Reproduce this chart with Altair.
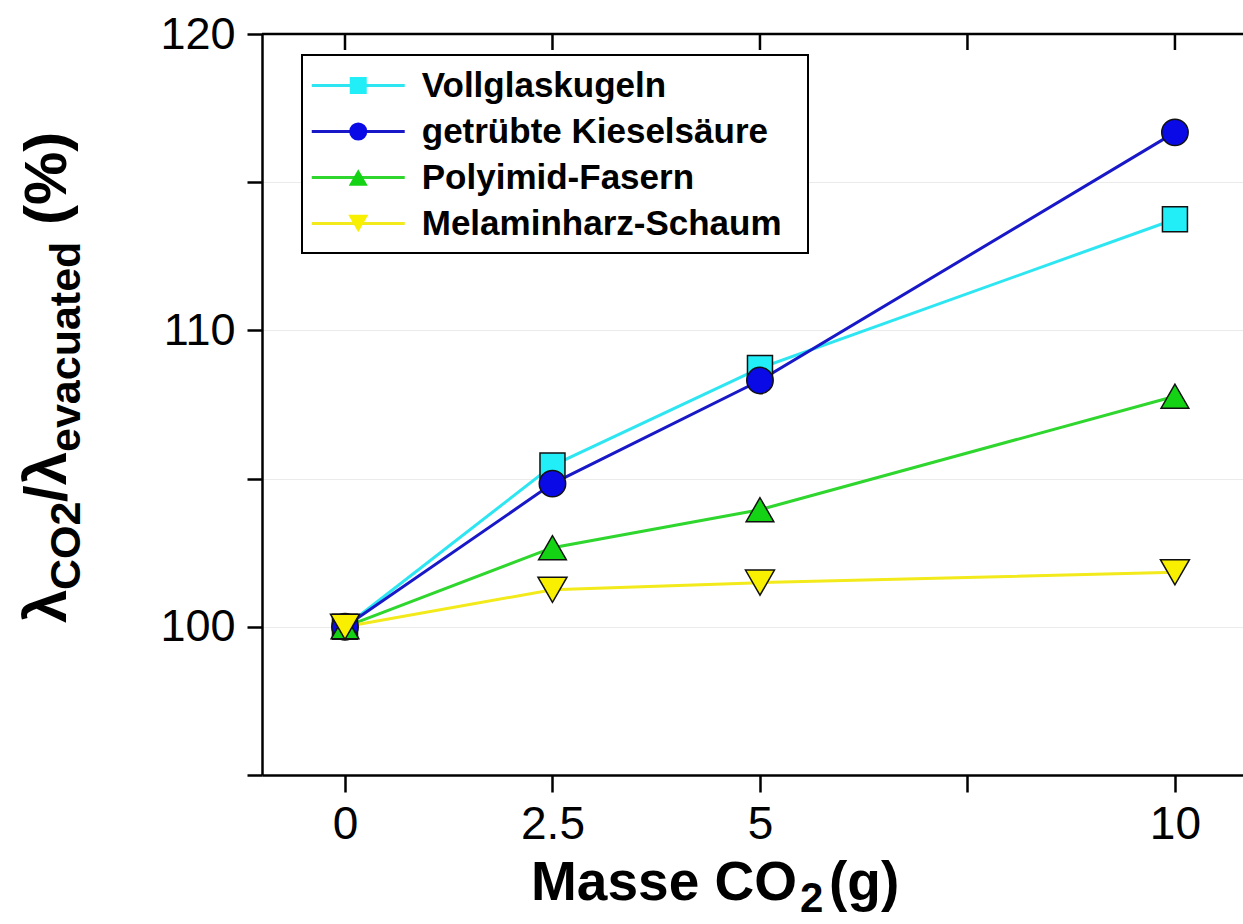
import altair as alt
import pandas as pd

# ---- data ----
masse = [0, 2.5, 5, 10]
serien = ["Vollglaskugeln", "getrübte Kieselsäure", "Polyimid-Fasern", "Melaminharz-Schaum"]
vollglaskugeln = [100, 105.44, 108.73, 113.75]
kieselsaeure = [100, 104.83, 108.31, 116.68]
polyimid = [100, 102.67, 103.95, 107.78]
melaminharz = [100, 101.25, 101.49, 101.84]

x_ticks = [0, 2.5, 5, 7.5, 10]
x_labels = [0, 2.5, 5, 10]
y_ticks = [95, 100, 105, 110, 115, 120]
y_labels = [100, 110, 120]

# ---- styles ----
line_colors = ["#2ee6f2", "#1818c8", "#2ed62e", "#f2ea1a"]
fill_colors = ["#22eef8", "#0a0ae6", "#14d214", "#f8f000"]
shapes = ["square", "circle", "triangle-up", "triangle-down"]
plot_sizes = [625, 841, 1156, 1156]
legend_sizes = [289, 400, 506, 506]

W, H = 981, 741
FONT = "Liberation Sans, Arial, sans-serif"

rows = []
for name, vals in zip(serien, [vollglaskugeln, kieselsaeure, polyimid, melaminharz]):
    for m, v in zip(masse, vals):
        rows.append({"Serie": name, "Masse": m, "Wert": v})
df = pd.DataFrame(rows)

x_enc = alt.X(
    "Masse:Q",
    scale=alt.Scale(domain=[-1, 10.82], nice=False, zero=False),
    axis=alt.Axis(
        values=x_ticks,
        labelExpr=f"indexof({x_labels}, datum.value) >= 0 ? format(datum.value, '~g') : ''",
        title=None, grid=False, domainColor="black", domainWidth=2.5,
        tickColor="black", tickWidth=2.5, tickSize=17,
        labelFont=FONT, labelFontSize=46, labelColor="black", labelPadding=10,
    ),
)
y_enc = alt.Y(
    "Wert:Q",
    scale=alt.Scale(domain=[95, 120], nice=False, zero=False),
    axis=alt.Axis(
        values=y_ticks,
        labelExpr=f"indexof({y_labels}, datum.value) >= 0 ? format(datum.value, 'd') : ''",
        title=None, grid=True, gridColor="#ebebeb", gridWidth=1,
        domainColor="black", domainWidth=2.5,
        tickColor="black", tickWidth=2.5, tickSize=15,
        labelFont=FONT, labelFontSize=45, labelColor="black", labelPadding=12,
    ),
)

common_legend = dict(
    orient="none", legendX=40, legendY=21, title=None,
    labelFont=FONT, labelFontSize=35, labelFontWeight="bold", labelColor="black",
    labelLimit=800, padding=13, rowPadding=10, symbolOffset=25.75, labelOffset=46,
)

# line legend: coloured line samples only (no label text)
legend_lines = alt.Legend(
    symbolType="M-4.133,0H4.133", symbolSize=506, symbolStrokeWidth=3,
    labelExpr="''", **common_legend,
)
# marker legend: drawn on top, shows markers and the labels
legend_marks = alt.Legend(
    symbolStrokeColor="#111111", symbolStrokeWidth=1.5, **common_legend,
)

# legend frame (white box with black border) behind the legend entries
legend_box = alt.Chart(pd.DataFrame({"a": [0]})).mark_rect(
    fill="white", stroke="black", strokeWidth=2
).encode(x=alt.value(40), x2=alt.value(546), y=alt.value(21), y2=alt.value(219))

lines = alt.Chart(df).mark_line(strokeWidth=3).encode(
    x=x_enc, y=y_enc,
    color=alt.Color("Serie:N", scale=alt.Scale(domain=serien, range=line_colors), legend=legend_lines),
)

legend_pts = alt.Chart(df).mark_point(filled=True, opacity=1, stroke="#111111", strokeWidth=1.5).encode(
    x=x_enc, y=y_enc,
    fill=alt.Fill("Serie:N", scale=alt.Scale(domain=serien, range=fill_colors), legend=legend_marks),
    shape=alt.Shape("Serie:N", scale=alt.Scale(domain=serien, range=shapes), legend=legend_marks),
    size=alt.Size("Serie:N", scale=alt.Scale(domain=serien, range=legend_sizes), legend=legend_marks),
)

pts = alt.Chart(df).mark_point(filled=True, opacity=1, stroke="#111111", strokeWidth=1.5).encode(
    x=x_enc, y=y_enc,
    fill=alt.Fill("Serie:N", scale=alt.Scale(domain=serien, range=fill_colors), legend=None),
    shape=alt.Shape("Serie:N", scale=alt.Scale(domain=serien, range=shapes), legend=None),
    size=alt.Size("Serie:N", scale=alt.Scale(domain=serien, range=plot_sizes), legend=None),
)

top_line = alt.Chart(pd.DataFrame({"a": [0]})).mark_rule(color="black", strokeWidth=2.5).encode(
    x=alt.value(0), x2=alt.value(W), y=alt.value(0)
)
top_ticks = alt.Chart(pd.DataFrame({"Masse": x_ticks})).mark_rule(color="black", strokeWidth=2.5).encode(
    x=alt.X("Masse:Q"), y=alt.value(0), y2=alt.value(16)
)


def txt(s, px, py, size, angle=0, align="left"):
    return alt.Chart(pd.DataFrame({"t": [s]})).mark_text(
        font=FONT, fontSize=size, fontWeight="bold", color="black",
        align=align, baseline="alphabetic", angle=angle,
    ).encode(text="t:N", x=alt.value(px), y=alt.value(py))


# y-axis title pieces (rotated, reading upwards), with subscripts
y_title = [
    txt("λ", -196, 589, 60, 270),
    txt("CO2", -182, 556, 43, 270),
    txt("/λ", -196, 468, 60, 270),
    txt("evacuated", -182, 418, 43, 270),
    txt("(%)", -196, 191, 60, 270),
]
# x-axis title pieces with subscript 2
x_title = [
    txt("Masse CO", 535, 866, 55, 0, "right"),
    txt("2", 538, 878, 42, 0, "left"),
    txt("(g)", 567, 866, 55, 0, "left"),
]

chart = alt.layer(
    legend_box, lines, legend_pts, pts, top_line, top_ticks, *y_title, *x_title
).resolve_scale(
    fill="independent", shape="independent", size="independent"
).properties(
    width=W, height=H,
    padding={"left": 262, "top": 34, "right": 0, "bottom": 149},
    autosize=alt.AutoSizeParams(type="none"),
    background="white",
).configure_view(stroke=None)

chart.save("out.html", embed_options={"renderer": "svg", "actions": False})
